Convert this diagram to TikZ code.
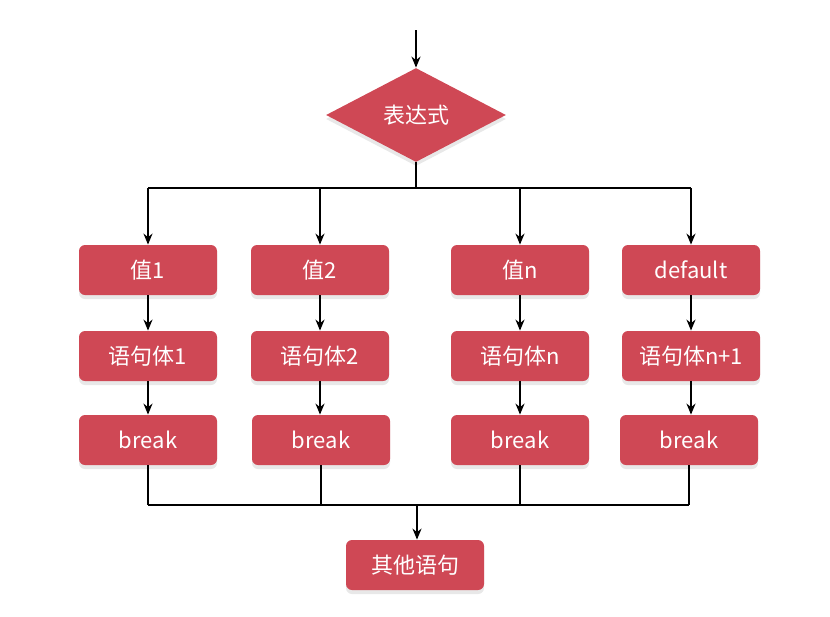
\documentclass[tikz,border=0pt]{standalone}
\usepackage{fontspec}
\newfontfamily\cjk{Noto Sans CJK SC}
\usetikzlibrary{shapes.geometric,shadows,arrows.meta}
\definecolor{boxred}{RGB}{207,72,85}
\tikzset{
	block/.style={rectangle, rounded corners=3pt, fill=boxred, text=white, font=\cjk\fontsize{11}{13}\selectfont,
		minimum width=69pt, minimum height=25pt, inner sep=0pt,
		drop shadow={opacity=0.18, shadow xshift=0pt, shadow yshift=-2pt}},
	decide/.style={diamond, aspect=1.9, fill=boxred, text=white, font=\cjk\fontsize{11}{13}\selectfont,
		minimum width=90pt, minimum height=47pt, inner sep=0pt,
		drop shadow={opacity=0.18, shadow xshift=0pt, shadow yshift=-2pt}},
	flow/.style={line width=1.1pt, -{Stealth[length=5.5pt,width=4.5pt]}},
	wire/.style={line width=1.1pt}
}

\begin{document}
\begin{tikzpicture}[x=0.5pt, y=-0.5pt]
		%%%%% START %%%%%
		\useasboundingbox (0, 0) rectangle (830, 616);
		
		\coordinate (in) at (416, 30);
		\node[decide] (expr) at (416, 115) {表达式};
		\draw[flow] (in) -- (expr.north);
		
		\node[block] (v1) at (148, 270) {值1};
		\node[block] (v2) at (320, 270) {值2};
		\node[block] (vn) at (520, 270) {值n};
		\node[block] (vd) at (691, 270) {default};
		
		\node[block] (s1) at (148, 356) {语句体1};
		\node[block] (s2) at (320, 356) {语句体2};
		\node[block] (sn) at (520, 356) {语句体n};
		\node[block] (sd) at (691, 356) {语句体n+1};
		
		\node[block] (b1) at (148, 440) {break};
		\node[block] (b2) at (321, 440) {break};
		\node[block] (bn) at (520, 440) {break};
		\node[block] (bd) at (689, 440) {break};
		
		\node[block] (rest) at (415, 565) {其他语句};
		
		\coordinate (fork) at (416, 188);
		\coordinate (join) at (417, 505);
		
		% branches
		\draw[wire] (expr.south) -- (fork);
		\draw[wire] (fork -| v1) -- (fork -| vd);
		\foreach \n in {v1, v2, vn, vd}
			\draw[flow] (fork -| \n) -- (\n.north);
		
		% bodies
		\draw[flow] (v1) -- (s1);
		\draw[flow] (v2) -- (s2);
		\draw[flow] (vn) -- (sn);
		\draw[flow] (vd) -- (sd);
		\draw[flow] (s1) -- (b1);
		\draw[flow] (s2) -- (s2 |- b2.north);
		\draw[flow] (sn) -- (bn);
		\draw[flow] (sd) -- (sd |- bd.north);
		
		% merge
		\foreach \n in {b1, b2, bn, bd}
			\draw[wire] (\n.south) -- (join -| \n);
		\draw[wire] (join -| b1) -- (join -| bd);
		\draw[flow] (join) -- (join |- rest.north);
		
		%%%%% END %%%%%
\end{tikzpicture}
\end{document}
